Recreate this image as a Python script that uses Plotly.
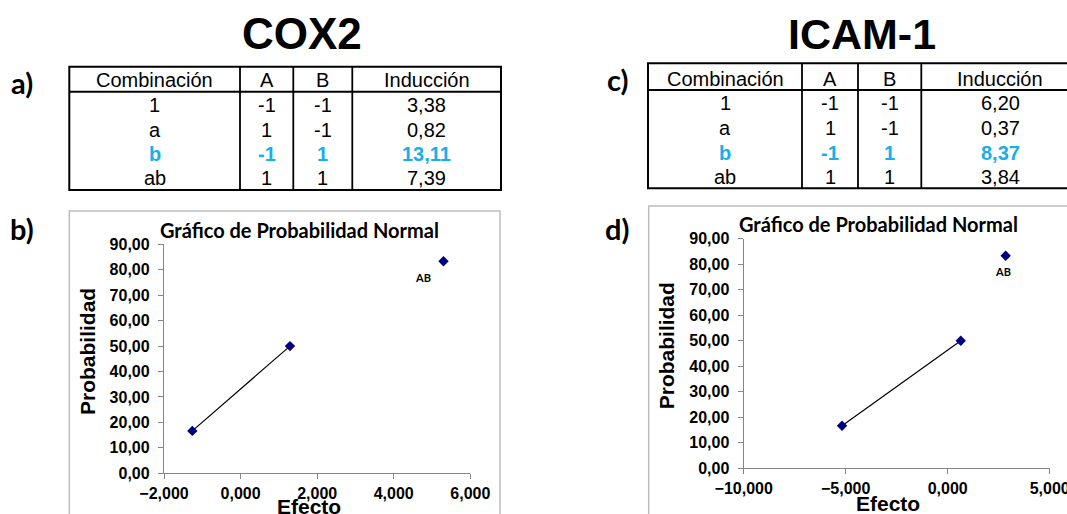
import plotly.graph_objects as go

W, H = 1067, 514

# ---------------- data ----------------
table_header = ["Combinación", "A", "B", "Inducción"]
combinations = ["1", "a", "b", "ab"]
factor_A = [-1, 1, -1, 1]
factor_B = [-1, -1, 1, 1]
cox2_induccion = [3.38, 0.82, 13.11, 7.39]
icam_induccion = [6.20, 0.37, 8.37, 3.84]
highlight_row = "b"

cox2_effect = [-1.26, 1.29, 5.30]
cox2_prob = [16.67, 50.00, 83.33]
icam_effect = [-5.18, 0.64, 2.84]
icam_prob = [16.67, 50.00, 83.33]
point_labels = ["", "", "AB"]

cox2_xticks = [-2, 0, 2, 4, 6]
icam_xticks = [-10, -5, 0, 5]
prob_yticks = [0, 10, 20, 30, 40, 50, 60, 70, 80, 90]

# ---------------- helpers ----------------
def px(x):
    return x / W

def py(y):
    return 1 - y / H

ARIAL = "Liberation Sans"
CALIBRI = "Lato"
BLUE = "#1aaee9"
NAVY = "#000080"
AXIS_GRAY = "#868686"

fig = go.Figure()

def add_prob_plot(effect, prob, xa, ya):
    fig.add_trace(go.Scatter(
        x=effect[:2], y=prob[:2], mode="lines",
        line=dict(color="black", width=1.2),
        xaxis=xa, yaxis=ya, showlegend=False, hoverinfo="skip"))
    fig.add_trace(go.Scatter(
        x=effect, y=prob, mode="markers",
        marker=dict(symbol="diamond", size=8, color=NAVY),
        xaxis=xa, yaxis=ya, showlegend=False))

add_prob_plot(cox2_effect, cox2_prob, "x", "y")
add_prob_plot(icam_effect, icam_prob, "x2", "y2")

shapes = []
annotations = []

def fmt(v):
    return f"{v:.2f}".replace(".", ",")

def draw_table(left, cols, right, top, header_bottom, bottom, header_cy, row_cys, induccion):
    lw = 2
    shapes.append(dict(type="rect", xref="paper", yref="paper",
                       x0=px(left), x1=px(right), y0=py(top), y1=py(bottom),
                       line=dict(color="black", width=lw)))
    shapes.append(dict(type="line", xref="paper", yref="paper",
                       x0=px(left), x1=px(right), y0=py(header_bottom), y1=py(header_bottom),
                       line=dict(color="black", width=lw)))
    for c in cols:
        shapes.append(dict(type="line", xref="paper", yref="paper",
                           x0=px(c), x1=px(c), y0=py(top), y1=py(bottom),
                           line=dict(color="black", width=1.8)))
    edges = [left] + cols + [right]
    centers = [(edges[i] + edges[i + 1]) / 2 for i in range(4)]
    for i, h in enumerate(table_header):
        annotations.append(dict(xref="paper", yref="paper", x=px(centers[i]), y=py(header_cy),
                                text=h, showarrow=False, xanchor="center", yanchor="middle",
                                font=dict(family=ARIAL, size=20, color="black")))
    for r in range(4):
        vals = [combinations[r], str(factor_A[r]), str(factor_B[r]), fmt(induccion[r])]
        hl = combinations[r] == highlight_row
        for i, v in enumerate(vals):
            annotations.append(dict(xref="paper", yref="paper", x=px(centers[i]), y=py(row_cys[r]),
                                    text=(f"<b>{v}</b>" if hl else v), showarrow=False,
                                    xanchor="center", yanchor="middle",
                                    font=dict(family=ARIAL, size=20, color=BLUE if hl else "black")))

draw_table(69.3, [240, 293.3, 352.3], 501, 66.7, 91.7, 190, 80, [105, 130, 154, 178.3], cox2_induccion)
draw_table(648, [802, 858, 921.3], 1079, 63.3, 90, 188.3, 79, [103.3, 128.3, 152.7, 176.7], icam_induccion)

annotations.append(dict(xref="paper", yref="paper", x=px(302), y=py(34), text="<b>COX2</b>",
                        showarrow=False, xanchor="center", yanchor="middle",
                        font=dict(family=ARIAL, size=44, color="black")))
annotations.append(dict(xref="paper", yref="paper", x=px(861.5), y=py(34), text="<b>ICAM-1</b>",
                        showarrow=False, xanchor="center", yanchor="middle",
                        font=dict(family=ARIAL, size=43, color="black")))

for txt, x, y in [("a)", 22, 82), ("b)", 22, 228), ("c)", 617, 79), ("d)", 617, 229)]:
    annotations.append(dict(xref="paper", yref="paper", x=px(x), y=py(y), text=f"<b>{txt}</b>",
                            showarrow=False, xanchor="center", yanchor="middle",
                            font=dict(family=CALIBRI, size=29, color="black")))

shapes.append(dict(type="rect", xref="paper", yref="paper", x0=px(69.3), x1=px(500),
                   y0=py(211), y1=py(530), line=dict(color="#bdbdbd", width=1.5), layer="below"))
shapes.append(dict(type="rect", xref="paper", yref="paper", x0=px(648.7), x1=px(1090),
                   y0=py(206), y1=py(530), line=dict(color="#bdbdbd", width=1.5), layer="below"))

for cx, cy in [(299.7, 230), (878.7, 224)]:
    annotations.append(dict(xref="paper", yref="paper", x=px(cx), y=py(cy),
                            text="<b>Gráfico de Probabilidad Normal</b>", showarrow=False,
                            xanchor="center", yanchor="middle",
                            font=dict(family=CALIBRI, size=20, color="black")))
for cx, cy in [(87.3, 351.7), (666, 346.3)]:
    annotations.append(dict(xref="paper", yref="paper", x=px(cx), y=py(cy),
                            text="<b>Probabilidad</b>", showarrow=False, textangle=-90,
                            xanchor="center", yanchor="middle",
                            font=dict(family=ARIAL, size=21, color="black")))
for cx, cy in [(308.7, 506), (887.8, 503)]:
    annotations.append(dict(xref="paper", yref="paper", x=px(cx), y=py(cy),
                            text="<b>Efecto</b>", showarrow=False,
                            xanchor="center", yanchor="middle",
                            font=dict(family=ARIAL, size=21, color="black")))

for xa, ya, eff, prob, xs in [("x", "y", cox2_effect, cox2_prob, -21),
                              ("x2", "y2", icam_effect, icam_prob, -3)]:
    for e, p, lab in zip(eff, prob, point_labels):
        if lab:
            annotations.append(dict(xref=xa, yref=ya, x=e, y=p, text=f"<b>{lab}</b>",
                                    showarrow=False, xanchor="center", yanchor="middle",
                                    xshift=xs, yshift=-16,
                                    font=dict(family=CALIBRI, size=11, color="black")))

axis_common = dict(showline=True, linecolor=AXIS_GRAY, linewidth=1.3, ticks="outside",
                   ticklen=5, tickcolor=AXIS_GRAY, tickwidth=1.3, showgrid=False,
                   zeroline=False, fixedrange=True, automargin=False,
                   ticklabeloverflow="allow",
                   tickfont=dict(family=ARIAL, size=16, color="black", weight="bold"))

fig.update_layout(
    width=W, height=H, autosize=False,
    margin=dict(l=0, r=0, t=0, b=0, pad=0),
    paper_bgcolor="white", plot_bgcolor="white",
    separators=",.",
    showlegend=False,
    xaxis=dict(domain=[px(164), px(470.3)], range=[-2, 6], tickvals=cox2_xticks,
               tickformat=".3f", anchor="y", **axis_common),
    yaxis=dict(domain=[py(473.3), py(244.3)], range=[0, 90], tickvals=prob_yticks,
               tickformat=".2f", anchor="x", ticklabelstandoff=5, **axis_common),
    xaxis2=dict(domain=[px(743.7), px(1049.7)], range=[-10, 5], tickvals=icam_xticks,
                tickformat=".3f", anchor="y2", **axis_common),
    yaxis2=dict(domain=[py(468.3), py(238.7)], range=[0, 90], tickvals=prob_yticks,
                tickformat=".2f", anchor="x2", ticklabelstandoff=5, **axis_common),
    shapes=shapes,
    annotations=annotations,
)

fig.write_html("out.html", config={"displayModeBar": False},
               post_script="document.body.style.margin='0px';")
